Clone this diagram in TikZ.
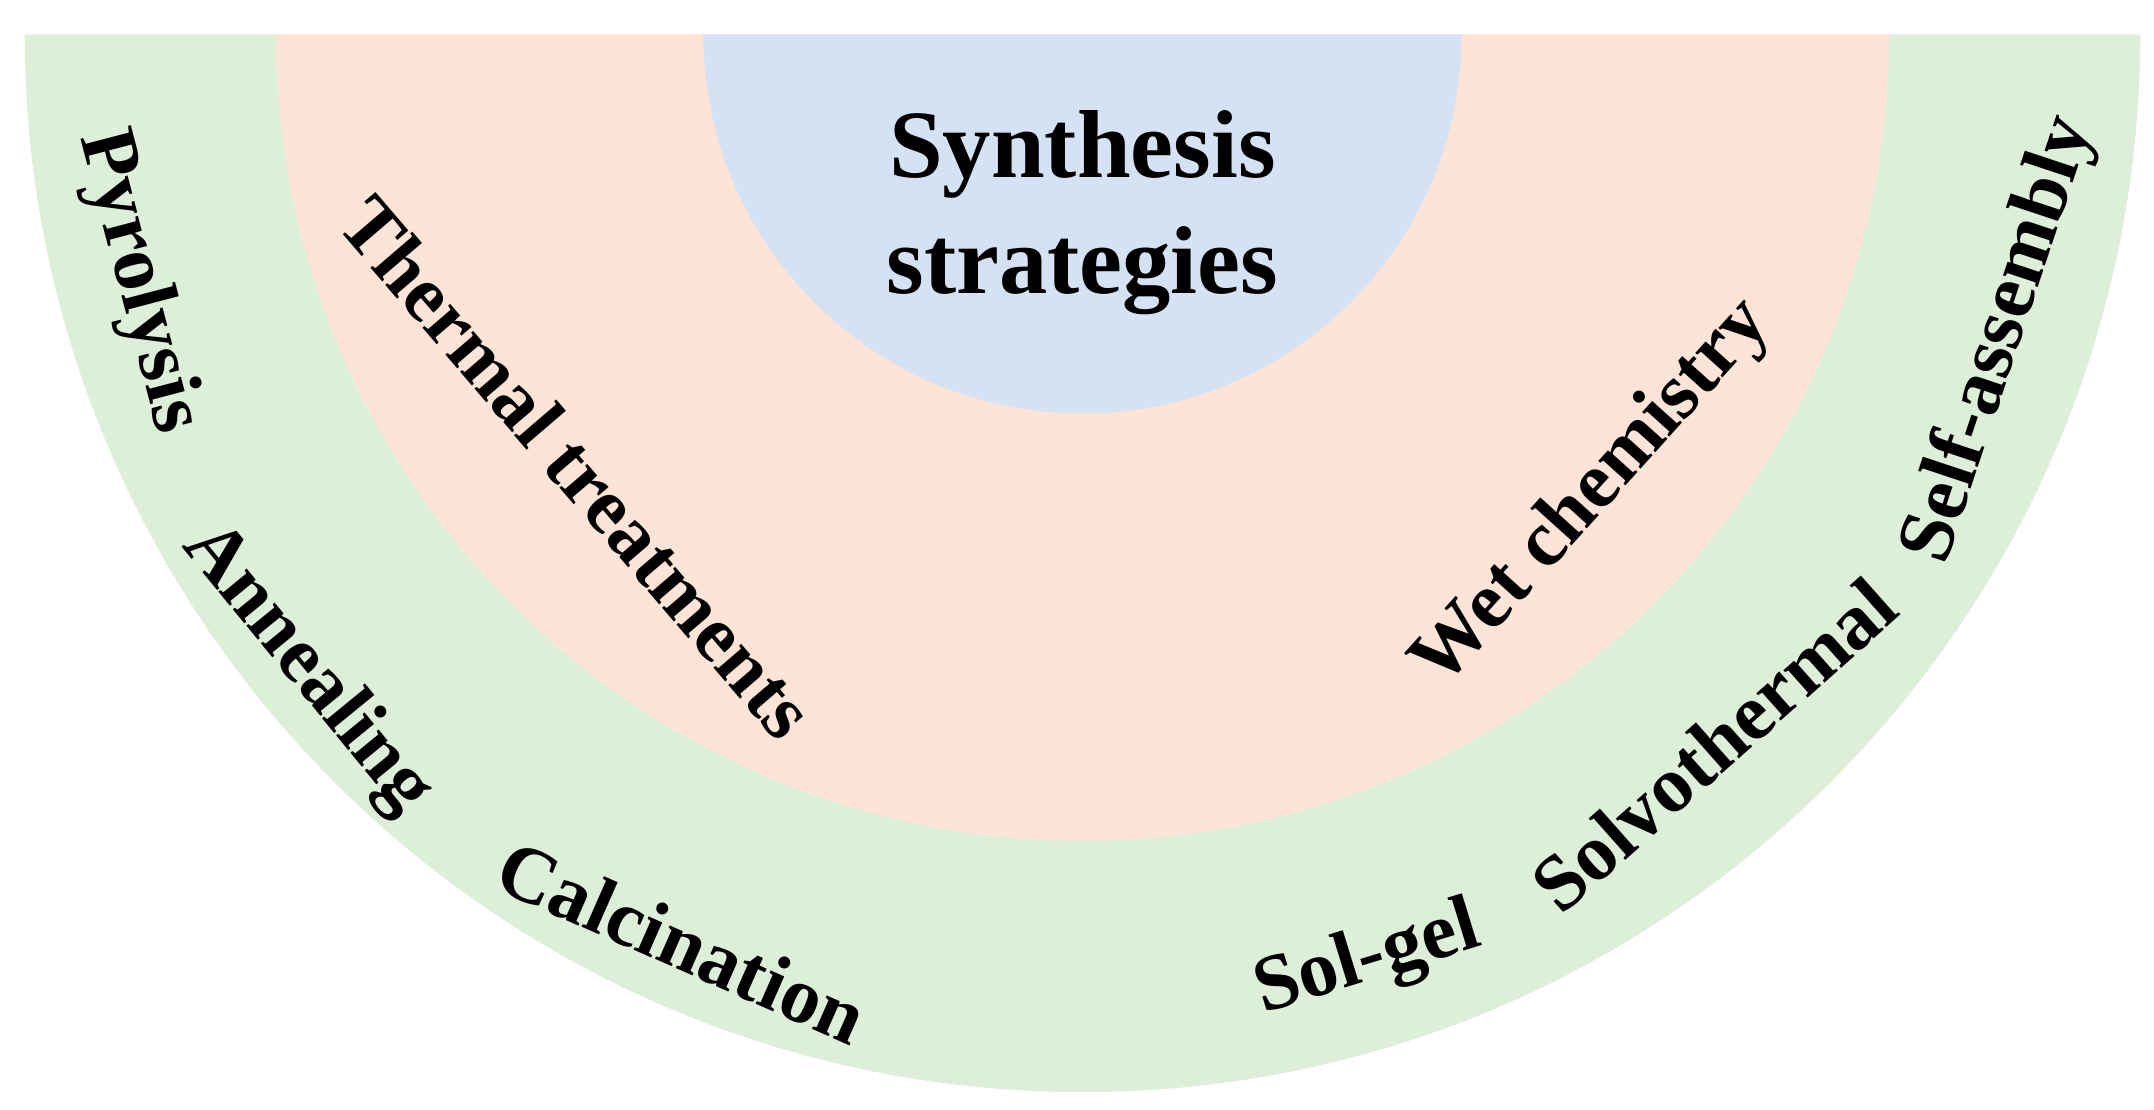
\documentclass[tikz,border=0pt]{standalone}
\usepackage{fontspec}
\setmainfont{Liberation Serif}
\definecolor{ringG}{HTML}{DDEFD9}
\definecolor{ringP}{HTML}{FDE4D6}
\definecolor{ringB}{HTML}{D5E2F3}
\begin{document}
\begin{tikzpicture}[
    X/.style = {font=\fontsize{16.5}{19}\selectfont\bfseries, inner sep=0pt},% labels on the rings
    Y/.style = {font=\fontsize{20}{24}\selectfont\bfseries, align=center, inner sep=0pt},
                        ]
\useasboundingbox (-7.88,-7.83) rectangle (7.80,0.25);
\coordinate (C) at (0,0);
\fill[ringG] (-7.70,0) arc (180:360:7.70) -- cycle;
\fill[ringP] (-5.87,0) arc (180:360:5.87) -- cycle;
\fill[ringB] (-2.76,0) arc (180:360:2.76) -- cycle;
\node[Y] (S) at (0,-1.3) {Synthesis\\strategies};
% inner ring
\node[X, rotate=310.6] (T) at (220.6:4.84) {Thermal treatments};
\node[X, rotate=48] (W) at (-42:5.0) {Wet chemistry};
% outer ring
\foreach \a/\r/\t [count=\i] in {194.7/7.11/Pyrolysis, 219.3/7.30/Annealing,
    246.2/7.22/Calcination, 287.1/7.06/Sol-gel, 311.6/6.92/Solvothermal,
    341.6/7.04/Self-assembly}% <-- content of nodes
    \node[X, rotate=\a+90] (L\i) at (\a:\r) {\t};
\end{tikzpicture}
\end{document}
